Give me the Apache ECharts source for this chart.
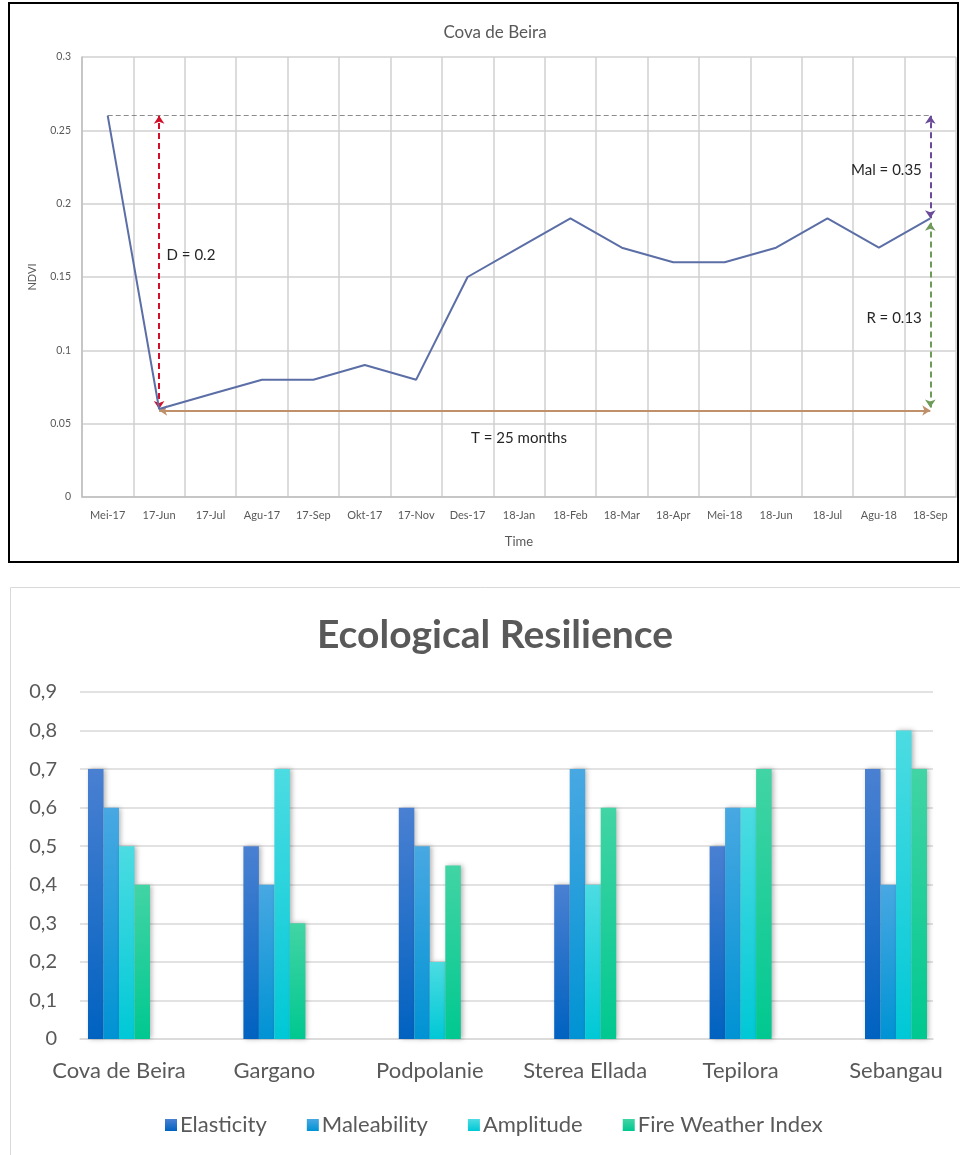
<!DOCTYPE html>
<html>
<head>
<meta charset="utf-8">
<script src="https://cdn.jsdelivr.net/npm/echarts@6/dist/echarts.min.js"></script>
<style>
html,body{margin:0;padding:0;background:#fff;}
#c{width:960px;height:1155px;}
</style>
</head>
<body>
<div id="c"></div>
<script>
// ---- Top chart data ----
const months = ['Mei-17','17-Jun','17-Jul','Agu-17','17-Sep','Okt-17','17-Nov','Des-17','18-Jan','18-Feb','18-Mar','18-Apr','Mei-18','18-Jun','18-Jul','Agu-18','18-Sep'];
const ndvi = [0.26,0.06,0.07,0.08,0.08,0.09,0.08,0.15,0.17,0.19,0.17,0.16,0.16,0.17,0.19,0.17,0.19];
const preLevel = 0.26;
const troughLevel = 0.06;
const timeLevel = 0.059;
const recoveryLevel = 0.19;
const annotD = 'D = 0.2';
const annotT = 'T = 25 months';
const annotMal = 'Mal = 0.35';
const annotR = 'R = 0.13';

// ---- Bottom chart data ----
const sites = ['Cova de Beira','Gargano','Podpolanie','Sterea Ellada','Tepilora','Sebangau'];
const elasticity  = [0.7,0.5,0.6,0.4,0.5,0.7];
const maleability = [0.6,0.4,0.5,0.7,0.6,0.4];
const amplitude   = [0.5,0.7,0.2,0.4,0.6,0.8];
const fwi         = [0.4,0.3,0.45,0.6,0.7,0.7];
const seriesNames = ['Elasticity','Maleability','Amplitude','Fire Weather Index'];

const F = 'Lato, "Open Sans", sans-serif';
function grad(top, bottom){
  return new echarts.graphic.LinearGradient(0,0,0,1,[{offset:0,color:top},{offset:1,color:bottom}]);
}
const barColors = [
  ['#4a80d2','#0062c0'],
  ['#48a8e2','#0093d4'],
  ['#4cdce2','#00c8d6'],
  ['#42d4a4','#00c890']
];
const barData = [elasticity, maleability, amplitude, fwi];

const chart = echarts.init(document.getElementById('c'), null, {renderer:'canvas'});

const labelPt = (cat, val, text, pos, dist) => ({
  coord:[cat, val], symbol:'circle', symbolSize:1,
  itemStyle:{color:'rgba(0,0,0,0)'},
  label:{show:true, formatter:text, position:pos, distance:dist, color:'#262626', fontSize:15, fontFamily:F}
});

const option = {
  animation:false,
  backgroundColor:'#fff',
  graphic:[
    {type:'rect', shape:{x:9,y:3,width:949,height:559}, style:{fill:'none', stroke:'#000', lineWidth:2}, z:-1},
    {type:'rect', shape:{x:10.5,y:587.5,width:951,height:570}, style:{fill:'none', stroke:'#d9d9d9', lineWidth:1}, z:-1}
  ],
  title:[
    {text:'Cova de Beira', left:490, top:19, textAlign:'center',
     textStyle:{fontSize:17, fontWeight:'normal', color:'#595959', fontFamily:F}},
    {text:'Ecological Resilience', left:490, top:611, textAlign:'center',
     textStyle:{fontSize:39, fontWeight:'bold', color:'#595959', fontFamily:F}}
  ],
  legend:{
    data:seriesNames, left:160, top:1109, itemWidth:12, itemHeight:12, itemGap:40,
    icon:'rect', textStyle:{fontSize:22, color:'#595959', fontFamily:F, padding:[0,0,0,-2]}
  },
  grid:[
    {left:82, top:57, width:874, height:440},
    {left:119, top:692, width:777, height:347},
    {left:80, top:692, width:853, height:347}
  ],
  xAxis:[
    {gridIndex:0, type:'category', data:months, boundaryGap:true,
     name:'Time', nameLocation:'middle', nameGap:38,
     nameTextStyle:{fontSize:13, color:'#595959', fontFamily:F},
     axisLine:{show:true, lineStyle:{color:'#bfbfbf', width:1.5}},
     axisTick:{show:false},
     axisLabel:{interval:0, fontSize:11, color:'#595959', fontFamily:F, margin:13},
     splitLine:{show:true, interval:0, lineStyle:{color:'#d0d0d0', width:1.5}}},
    {gridIndex:1, type:'category', data:sites, boundaryGap:false,
     axisLine:{show:false}, axisTick:{show:false},
     axisLabel:{interval:0, fontSize:22, color:'#595959', fontFamily:F, margin:21},
     splitLine:{show:false}},
    {gridIndex:2, type:'value', min:0, max:1, show:true,
     axisLine:{show:true, lineStyle:{color:'#d9d9d9', width:1.5}},
     axisTick:{show:false}, axisLabel:{show:false}, splitLine:{show:false}}
  ],
  yAxis:[
    {gridIndex:0, type:'value', min:0, max:0.3, interval:0.05,
     name:'NDVI', nameLocation:'middle', nameGap:44, nameRotate:90,
     nameTextStyle:{fontSize:11, color:'#595959', fontFamily:F},
     axisLine:{show:true, lineStyle:{color:'#bfbfbf', width:1.5}},
     axisTick:{show:false},
     axisLabel:{fontSize:10.5, color:'#595959', fontFamily:F, margin:11,
       formatter:v=>String(Math.round(v*100)/100)},
     splitLine:{show:true, lineStyle:{color:'#d0d0d0', width:1.5}}},
    {gridIndex:1, type:'value', min:0, max:0.9, interval:0.1, show:false,
     splitLine:{show:false}},
    {gridIndex:2, type:'value', min:0, max:0.9, interval:0.1,
     axisLine:{show:false}, axisTick:{show:false},
     axisLabel:{fontSize:20, color:'#595959', fontFamily:F, margin:23,
       formatter:v=>(Math.round(v*10)/10).toString().replace('.',',')},
     splitLine:{show:true, lineStyle:{color:'#d9d9d9', width:1.5}}}
  ],
  series:[
    {
      type:'line', name:'NDVI', xAxisIndex:0, yAxisIndex:0, data:ndvi,
      showSymbol:false, symbol:'none',
      lineStyle:{color:'#5b6ea6', width:2}, z:5,
      markLine:{
        silent:true, symbolSize:8, label:{show:false},
        data:[
          [{coord:[months[0], preLevel], symbol:'none', lineStyle:{color:'#8c8c8c', type:[5,3], width:1.2}},
           {coord:[months[16], preLevel], symbol:'none'}],
          [{coord:[months[1], troughLevel], symbol:'arrow', lineStyle:{color:'#d0102a', type:[6,4], width:2}},
           {coord:[months[1], preLevel], symbol:'arrow'}],
          [{coord:[months[1], timeLevel], symbol:'arrow', lineStyle:{color:'#c0906a', type:'solid', width:2}},
           {coord:[months[16], timeLevel], symbol:'arrow'}],
          [{coord:[months[16], recoveryLevel], symbol:'arrow', lineStyle:{color:'#6b4a9a', type:[6,4], width:2}},
           {coord:[months[16], preLevel], symbol:'arrow'}],
          [{coord:[months[16], 0.061], symbol:'arrow', lineStyle:{color:'#6e9a5a', type:[6,4], width:2}},
           {coord:[months[16], 0.187], symbol:'arrow'}]
        ]
      },
      markPoint:{
        silent:true,
        data:[
          labelPt(months[1], 0.165, annotD, 'right', 7),
          labelPt(months[8], 0.04, annotT, 'inside', 0),
          labelPt(months[16], 0.223, annotMal, 'left', 8),
          labelPt(months[16], 0.122, annotR, 'left', 8)
        ]
      }
    },
    ...seriesNames.map((n,i)=>({
      type:'bar', name:n, xAxisIndex:1, yAxisIndex:1, data:barData[i],
      barWidth:15.5, barGap:'0%',
      itemStyle:{color:grad(barColors[i][0], barColors[i][1]),
        shadowBlur:5, shadowColor:'rgba(0,0,0,0.3)', shadowOffsetX:2, shadowOffsetY:0}
    }))
  ]
};
chart.setOption(option);
</script>
</body>
</html>
